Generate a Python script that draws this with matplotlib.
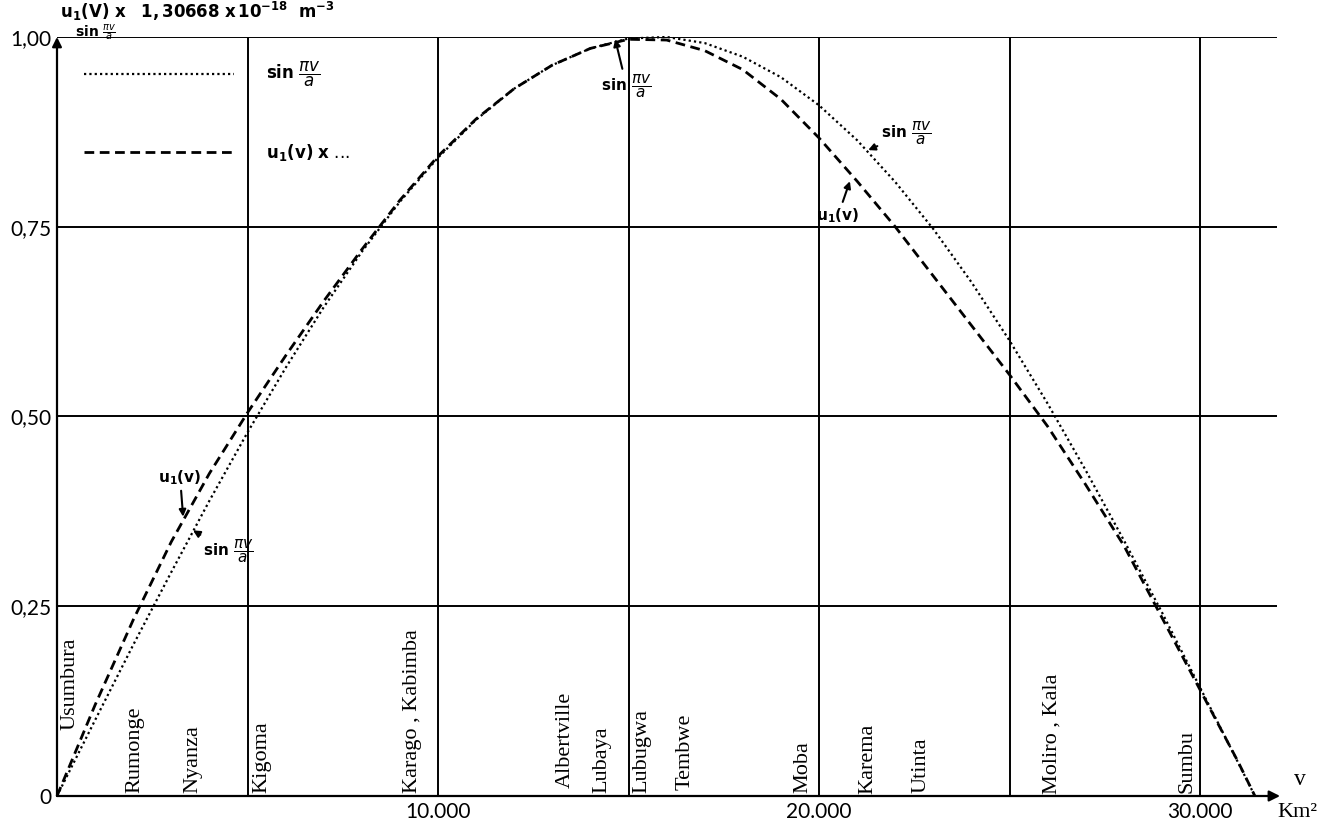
import matplotlib
matplotlib.use('Agg')
import matplotlib.pyplot as plt

# surface v (km2) along the lake, every 1000 km2
v_km2 = [0, 1000, 2000, 3000, 4000, 5000, 6000, 7000, 8000, 9000, 10000,
         11000, 12000, 13000, 14000, 15000, 16000, 17000, 18000, 19000, 20000,
         21000, 22000, 23000, 24000, 25000, 26000, 27000, 28000, 29000, 30000,
         31000, 31440]
sin_values = [0.0, 0.100, 0.199, 0.295, 0.389, 0.479, 0.564, 0.644, 0.717, 0.783, 0.841,
              0.891, 0.932, 0.963, 0.985, 0.998, 1.0, 0.992, 0.974, 0.947, 0.910,
              0.864, 0.809, 0.747, 0.677, 0.600, 0.517, 0.429, 0.337, 0.242, 0.143,
              0.044, 0.0]
u1_values = [0.0, 0.12, 0.232, 0.335, 0.425, 0.505, 0.58, 0.652, 0.72, 0.785, 0.843,
             0.892, 0.932, 0.963, 0.985, 0.997, 0.996, 0.982, 0.957, 0.918, 0.867,
             0.81, 0.75, 0.685, 0.62, 0.555, 0.487, 0.41, 0.33, 0.235, 0.14,
             0.045, 0.0]

towns = ['Usumbura', 'Rumonge', 'Nyanza', 'Kigoma', 'Karago , Kabimba',
         'Albertville', 'Lubaya', 'Lubugwa', 'Tembwe', 'Moba', 'Karema',
         'Utinta', 'Moliro , Kala', 'Sumbu']
town_v = [340, 2050, 3570, 5380, 9340, 13330, 14300, 15350, 16480, 19580,
          21290, 22680, 26120, 29660]
town_y = [0.087, 0.004, 0.004, 0.004, 0.004, 0.011, 0.004, 0.004, 0.008, 0.004,
          0.002, 0.004, 0.002, 0.004]

grid_v = [5000, 10000, 15000, 20000, 25000, 30000]
grid_y = [0.25, 0.5, 0.75, 1.0]
y_ticks = [0, 0.25, 0.5, 0.75, 1.0]
y_tick_labels = ['0', '0,25', '0,50', '0,75', '1,00']
x_ticks = [10000, 20000, 30000]
x_tick_labels = ['10.000', '20.000', '30.000']

sin_label = r'$\mathbf{sin}\ \dfrac{\pi v}{a}$'
u1_label = r'$\mathbf{u_{1}(v)}$'

fig = plt.figure(figsize=(13.17, 8.26), dpi=100)
W, H = 1317, 826
ax = fig.add_axes([57 / W, 30 / H, (1285 - 57) / W, (796 - 37) / H])
ax.set_xlim(0, 32230)
ax.set_ylim(0, 1)
for s in ax.spines.values():
    s.set_visible(False)

# grid
ax.vlines(grid_v, 0, 1, color='black', lw=1.4)
ax.hlines(grid_y, 0, 32020, color='black', lw=1.4)

# axes with arrows
ax.annotate('', xy=(0, 1.0), xytext=(0, 0), annotation_clip=False,
            arrowprops=dict(arrowstyle='-|>', color='black', lw=1.6,
                            mutation_scale=14, shrinkA=0, shrinkB=0))
ax.annotate('', xy=(32100, 0), xytext=(0, 0), annotation_clip=False,
            arrowprops=dict(arrowstyle='-|>', color='black', lw=1.6,
                            mutation_scale=16, shrinkA=0, shrinkB=0))

# curves
ax.plot(v_km2, sin_values, color='black', lw=1.6, linestyle=(0, (1, 1.4)),
        label=sin_label, clip_on=False)
ax.plot(v_km2, u1_values, color='black', lw=2.0, linestyle=(0, (3.5, 2)),
        label=r'$\mathbf{u_{1}(v)}$ $\mathbf{x}$ ...', clip_on=False)

leg = ax.legend(loc='upper left', bbox_to_anchor=(84 / W, 1 - 60 / H),
                bbox_transform=fig.transFigure, frameon=False, fontsize=12,
                handlelength=9.0, handletextpad=1.9, labelspacing=3.15,
                borderpad=0, borderaxespad=0)

# ticks
ax.set_yticks(y_ticks)
ax.set_yticklabels(y_tick_labels, fontsize=15, family='Lato')
ax.set_xticks(x_ticks)
ax.set_xticklabels(x_tick_labels, fontsize=15, family='Lato')
ax.tick_params(length=0, pad=4)

# town names
for name, tv, ty in zip(towns, town_v, town_y):
    ax.text(tv, ty, name, rotation=90, ha='center', va='bottom',
            fontsize=16, family='Liberation Serif')

# axis titles
fig.text(60 / W, 1 - 11 / H,
         r'$\mathbf{u_{1}(V)\ x}$   $\mathbf{1,30668\ x\,10^{-18}}$  $\mathbf{m^{-3}}$',
         fontsize=12, ha='left', va='center')
ax.text(32620, 0.022, 'v', fontsize=17, family='Liberation Serif', ha='center', va='center')
ax.text(32560, -0.022, 'Km²', fontsize=16, family='Liberation Serif', ha='center', va='center')
ax.text(470, 1.006, r'$\mathbf{sin}\ \frac{\pi v}{a}$', fontsize=10, ha='left', va='center')

# curve annotations
arrow = dict(arrowstyle='-|>', color='black', lw=1.5, mutation_scale=10, shrinkA=1, shrinkB=0)
ax.annotate(u1_label, xy=(3310, 0.368), xytext=(3230, 0.42), fontsize=11,
            ha='center', va='center', arrowprops=arrow)
ax.annotate(sin_label, xy=(3570, 0.35), xytext=(4500, 0.322), fontsize=11,
            ha='center', va='center', arrowprops=arrow)
ax.annotate(sin_label, xy=(14650, 0.997), xytext=(14950, 0.935), fontsize=11,
            ha='center', va='center', arrowprops=arrow)
ax.annotate(sin_label, xy=(21290, 0.851), xytext=(22300, 0.873), fontsize=11,
            ha='center', va='center', arrowprops=arrow)
ax.annotate(u1_label, xy=(20810, 0.81), xytext=(20500, 0.765), fontsize=11,
            ha='center', va='center', arrowprops=arrow)

fig.savefig('out.png', dpi=100)
